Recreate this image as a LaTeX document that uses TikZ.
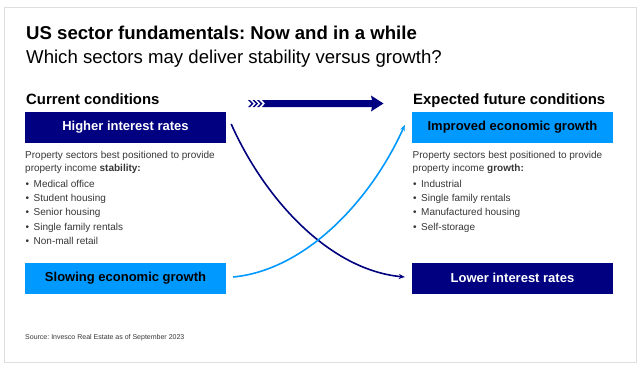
\documentclass[tikz,border=0pt]{standalone}
\usepackage{fontspec}
\setmainfont{Liberation Sans}
\usetikzlibrary{arrows.meta}
\definecolor{navyc}{RGB}{0,0,128}
\definecolor{skyc}{RGB}{0,153,255}
\definecolor{bodyc}{RGB}{55,55,55}
\definecolor{framec}{RGB}{222,222,222}
\newcommand{\bulitem}[1]{\makebox[8pt][l]{\textbullet}#1}
\frenchspacing
\begin{document}
\begin{tikzpicture}[x=1pt,y=-1pt,
  boxbase/.style={minimum width=201pt,minimum height=31pt,inner sep=0pt,font=\fontsize{13}{15}\selectfont\bfseries},
  navybox/.style={boxbase,fill=navyc,text=white},
  skybox/.style={boxbase,fill=skyc,text=black},
  bodytxt/.style={anchor=base west,inner sep=0pt,text=bodyc,font=\fontsize{10}{12}\selectfont},
  headtxt/.style={anchor=base west,inner sep=0pt,font=\fontsize{14.9}{17}\selectfont\bfseries},
  titletxt/.style={anchor=base west,inner sep=0pt,font=\fontsize{18.6}{21}\selectfont\bfseries},
  subtxt/.style={anchor=base west,inner sep=0pt,font=\fontsize{18.6}{21}\selectfont},
  srctxt/.style={anchor=base west,inner sep=0pt,text=bodyc,font=\fontsize{7}{8}\selectfont},
  link/.style={line width=1.6pt,-{Stealth[length=6pt,width=5pt]}}
]
\useasboundingbox (0,0) rectangle (640,370);
\fill[white] (0,0) rectangle (640,370);
\draw[framec,line width=1pt] (4,7) rectangle (636,362);

% titles
\node[titletxt] (title) at (26,39.5) {US sector fundamentals: Now and in a while};
\node[subtxt] (subtitle) at (26,63) {Which sectors may deliver stability versus growth?};

% headings
\node[headtxt] (curhead) at (26,104.5) {Current conditions};
\node[headtxt] (futhead) at (413,104.5) {Expected future conditions};

% boxes
\node[navybox] (hir) at (125.5,127.5) {Higher interest rates};
\node[skybox] (seg) at (125.5,278) {Slowing economic growth};
\node[skybox] (ieg) at (512.5,127.5) {Improved economic growth};
\node[navybox] (lir) at (512.5,278) {Lower interest rates};

% left text
\node[bodytxt] (lp1) at (25,158.5) {Property sectors best positioned to provide};
\node[bodytxt] (lp2) at (25,171) {property income \textbf{stability:}};
\node[bodytxt] (lb1) at (25.5,187.5) {\bulitem{Medical office}};
\node[bodytxt] (lb2) at (25.5,201.7) {\bulitem{Student housing}};
\node[bodytxt] (lb3) at (25.5,215.8) {\bulitem{Senior housing}};
\node[bodytxt] (lb4) at (25.5,230) {\bulitem{Single family rentals}};
\node[bodytxt] (lb5) at (25.5,244.2) {\bulitem{Non-mall retail}};

% right text
\node[bodytxt] (rp1) at (412.5,158.5) {Property sectors best positioned to provide};
\node[bodytxt] (rp2) at (412.5,171) {property income \textbf{growth:}};
\node[bodytxt] (rb1) at (413,187.5) {\bulitem{Industrial}};
\node[bodytxt] (rb2) at (413,201.7) {\bulitem{Single family rentals}};
\node[bodytxt] (rb3) at (413,215.8) {\bulitem{Manufactured housing}};
\node[bodytxt] (rb4) at (413,230) {\bulitem{Self-storage}};

% source
\node[srctxt] (src) at (25,339) {Source: Invesco Real Estate as of September 2023};

% top block arrow with chevrons
\fill[navyc] (262,100) -- (372,100) -- (371,95.5) -- (383.5,103.5) -- (371,111.5) -- (372,107) -- (262,107) -- (265,103.5) -- cycle;
\foreach \cx in {248,252.5,257}{
  \fill[navyc] (\cx,100) -- (\cx+2,100) -- (\cx+5.5,103.5) -- (\cx+2,107) -- (\cx,107) -- (\cx+3.5,103.5) -- cycle;
}

% crossing connectors
\draw[link,navyc] ([xshift=5pt,yshift=3.5pt]hir.east) .. controls (265,200) and (330,270) .. ([xshift=-7pt,yshift=1pt]lir.west);
\draw[link,skyc] ([xshift=7pt,yshift=1pt]seg.east) .. controls (306,270) and (371,200) .. ([xshift=-7pt,yshift=2.5pt]ieg.west);
\end{tikzpicture}
\end{document}
